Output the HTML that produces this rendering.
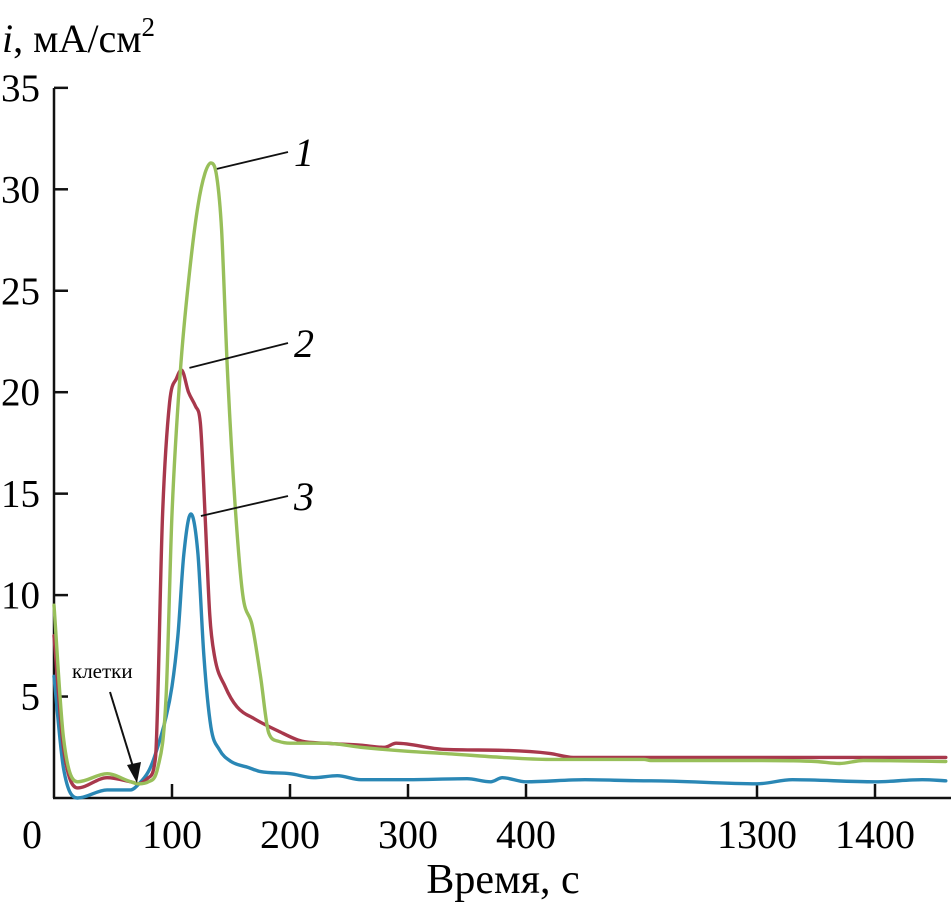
<!DOCTYPE html>
<html><head><meta charset="utf-8"><style>
html,body{margin:0;padding:0;background:#fff;}
svg{display:block;font-family:"Liberation Serif",serif;}
</style></head><body>
<svg id="chart" width="951" height="908">
<g id="axes"></g>
<g id="series"></g>
<text x="2" y="52" font-size="40"><tspan font-style="italic">i</tspan>, мА/см<tspan dy="-16" font-size="27">2</tspan></text>
<text x="503" y="893" font-size="42" text-anchor="middle">Время, с</text>
<text x="72" y="678" font-size="21">клетки</text>
<line x1="110" y1="692" x2="134" y2="770" stroke="#111" stroke-width="2"/>
<polygon points="137,783 127,765 141,762" fill="#111"/>
</svg>
<script>
const yTicks=[0,5,10,15,20,25,30,35];
const xTicks=[0,100,200,300,400,1300,1400];
const tGreen=[0,8,20,45,65,72,80,88,95,100,107,115,122,128,133,138,142,147,154,160,168,175,182,190,200,230,260,300,330,380,420,500,1210,1300,1350,1370,1390,1460];
const vGreen=[9.5,3,0.8,1.2,0.8,0.7,0.8,1.5,5,14,21,26,29.2,30.8,31.3,30.6,28,21,14,10,8.5,6,3.2,2.8,2.7,2.7,2.5,2.3,2.2,2.0,1.9,1.9,1.85,1.85,1.8,1.7,1.85,1.8];
const tRed=[0,8,20,45,65,72,80,86,92,98,104,108,114,120,124,128,132,136,145,155,170,190,210,230,260,280,290,330,380,420,440,500,1210,1460];
const vRed=[8,2.5,0.5,1.0,0.8,0.7,1.0,2,14,19.5,20.7,21.1,20,19.3,18.5,14,9,7,5.5,4.5,3.9,3.3,2.8,2.7,2.6,2.5,2.7,2.4,2.35,2.2,2.0,2.0,2.0,2.0];
const tBlue=[0,8,20,45,65,72,80,85,95,100,105,110,116,122,127,133,140,150,165,175,200,220,240,260,300,350,370,380,400,450,500,1210,1300,1330,1400,1440,1460];
const vBlue=[6,1.5,0,0.4,0.4,0.7,1.3,2,4,5.5,8,12,14,12,7,3.5,2.4,1.8,1.5,1.3,1.2,1.0,1.1,0.9,0.9,0.95,0.8,1.0,0.8,0.9,0.85,0.85,0.7,0.9,0.8,0.9,0.85];
const NS="http://www.w3.org/2000/svg";
function X(t){return t<=600?54+1.18*t:757+1.18*(t-1300);}
function Y(v){return 798-20.29*v;}
function mk(tag,attrs,parent){const e=document.createElementNS(NS,tag);for(const k in attrs)e.setAttribute(k,attrs[k]);parent.appendChild(e);return e;}
const ax=document.getElementById('axes');
let a=mk('line',{x1:54,y1:88,x2:54,y2:798,stroke:'#111','stroke-width':2.5},ax);


a=mk('line',{x1:53,y1:798,x2:951,y2:798,stroke:'#111','stroke-width':2.5},ax);


yTicks.forEach(v=>{
 if(v>0){const l=mk('line',{x1:54,y1:Y(v),x2:68,y2:Y(v),stroke:'#111','stroke-width':2.5},ax);
 
 
 const t=mk('text',{x:40,y:Y(v)+13,'font-size':39,'text-anchor':'end'},ax);t.textContent=v;
 
 }
});
xTicks.forEach(v=>{
 if(v>0){const l=mk('line',{x1:X(v),y1:798,x2:X(v),y2:784,stroke:'#111','stroke-width':2.5},ax);
 
 }
 const t=mk('text',{x:v===0?32:X(v),y:848,'font-size':40,'text-anchor':'middle'},ax);t.textContent=v;
 
 
});
function smoothPath(px,py){
 const n=px.length,d=[],m=[];
 for(let i=0;i<n-1;i++){const dx=px[i+1]-px[i];d.push(dx===0?0:(py[i+1]-py[i])/dx);}
 for(let i=0;i<n;i++){
  if(i===0)m.push(d[0]);else if(i===n-1)m.push(d[n-2]);
  else m.push(d[i-1]*d[i]<=0?0:(d[i-1]+d[i])/2);
 }
 for(let i=0;i<n-1;i++){
  if(d[i]===0){m[i]=0;m[i+1]=0;continue;}
  const a1=m[i]/d[i],b1=m[i+1]/d[i],s=a1*a1+b1*b1;
  if(s>9){const tt=3/Math.sqrt(s);m[i]=tt*a1*d[i];m[i+1]=tt*b1*d[i];}
 }
 let p='M'+px[0].toFixed(1)+','+py[0].toFixed(1);
 for(let i=0;i<n-1;i++){
  const h=(px[i+1]-px[i])/3;
  p+=' C'+(px[i]+h).toFixed(1)+','+(py[i]+m[i]*h).toFixed(1)+' '+(px[i+1]-h).toFixed(1)+','+(py[i+1]-m[i+1]*h).toFixed(1)+' '+px[i+1].toFixed(1)+','+py[i+1].toFixed(1);
 }
 return p;
}
const sg=document.getElementById('series');
function line(ts,vs,color,name){
 const p=mk('path',{d:smoothPath(ts.map(X),vs.map(Y)),fill:'none',stroke:color,'stroke-width':3.4,'stroke-linejoin':'round','stroke-linecap':'round'},sg);
 
 
}
line(tBlue,vBlue,'#2a87b5','series-3-line');
line(tRed,vRed,'#a8384c','series-2-line');
line(tGreen,vGreen,'#98bf5a','series-1-line');
function lbl(txt,px,py,tx,ty,name){
 const l=mk('line',{x1:px,y1:py,x2:tx-12,y2:ty-14,stroke:'#111','stroke-width':1.8},sg);
 
 
 const t=mk('text',{x:tx-6,y:ty,'font-size':40,'font-style':'italic'},sg);t.textContent=txt;
 
 
}
lbl('1',X(133)+6,Y(31.3)+6,300,166,'series-1-label');
lbl('2',X(108)+8,Y(21.1)-2,300,357,'series-2-label');
lbl('3',X(116)+10,Y(14)+2,300,510,'series-3-label');
</script>
</body></html>
